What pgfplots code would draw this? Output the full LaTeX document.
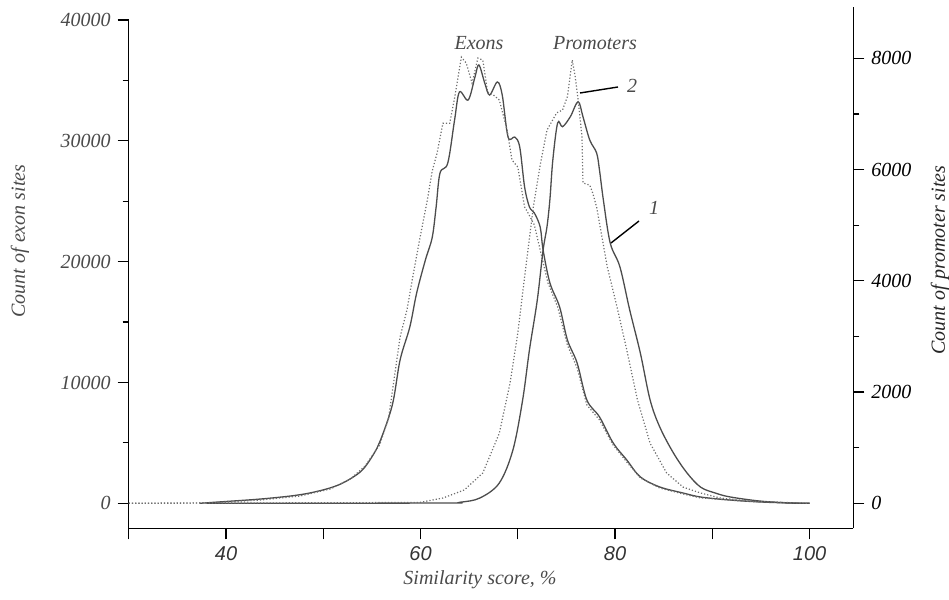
\documentclass[border=0pt]{standalone}
\usepackage{fontspec}
\setmainfont{Liberation Serif}
\setsansfont{Liberation Sans}
\usepackage{pgfplots}
\pgfplotsset{compat=1.18}
\definecolor{solidc}{HTML}{4C4C4C}
\definecolor{dotc}{HTML}{6E6E6E}
\definecolor{labc}{HTML}{4A4A4A}
\begin{document}
\begin{tikzpicture}
\useasboundingbox (0,0) rectangle (474.5pt,300pt);
% left axis: exon sites
\begin{axis}[
  at={(64.375pt,35.75pt)}, anchor=south west,
  scale only axis, width=362.3pt, height=254.25pt,
  xmin=30, xmax=104.5, ymin=-2086, ymax=40000,
  axis x line=bottom, axis y line=left,
  axis line style={-, black, line width=0.6pt},
  xtick={30,40,...,100}, xticklabels={,40,,60,,80,,100},
  ytick={0,10000,...,40000}, minor ytick={5000,15000,25000,35000},
  tick align=outside, major tick length=5.5pt, minor tick length=3pt,
  tick style={black, line width=0.6pt},
  scaled y ticks=false,
  /pgf/number format/1000 sep={}, /pgf/number format/assume math mode=true,
  yticklabel style={font=\itshape, text=labc},
  xticklabel style={font=\sffamily\itshape, text=black!80},
]
\addplot[solidc, line width=0.65pt, smooth, tension=0.55] coordinates {
(37.3,0) (40,150) (43.5,350) (46.6,600) (48.6,850) (50.7,1270) (52.2,1760) (53.8,2590) (54.8,3590) (55.8,5070) (57.1,8140) (57.9,11870) (58.9,14600) (59.6,17400) (60.5,20140) (61.2,22000) (61.6,24500) (62.0,27330) (62.8,28160) (63.5,31720) (64.0,34040) (64.9,33380) (65.6,35290) (66.0,36280) (66.6,34790) (67.1,33790) (67.9,34870) (68.4,33790) (69.0,30310) (69.7,30310) (70.2,29480) (70.7,26180) (71.2,24520) (71.7,24030) (72.3,22870) (72.6,20970) (73.3,18240) (74.3,16250) (75.1,13520) (76.1,11610) (77.1,8550) (78.4,7150) (79.8,5000) (81.2,3590) (82.6,2180) (84.6,1350) (87.0,850) (88.8,520) (91.8,270) (94.9,110) (98.0,25) (100,0)
};
\addplot[dotc, line width=0.6pt, densely dotted] coordinates {
(30,0) (38,40) (40,110) (43.5,270) (47.6,600) (50.7,1180) (52.8,2020) (54.3,3090) (55.8,4830) (56.7,7000) (57.9,13770) (58.6,15990) (59.2,18730) (59.9,21790) (60.7,25100) (61.2,27500) (61.7,28980) (62.3,31460) (63.0,31460) (63.5,33530) (64.2,36930) (64.7,36430) (65.3,34770) (65.9,36850) (66.4,36680) (66.9,34040) (67.5,33790) (68.1,33380) (68.9,30890) (69.4,28410) (70.0,27830) (70.7,24520) (71.0,24110) (71.7,23040) (72.3,20970) (73.1,18240) (74.1,16250) (75.1,13100) (76.1,11200) (77.1,8140) (78.4,6900) (79.8,4830) (81.2,3420) (82.6,2100) (84.6,1260) (87.0,770) (88.8,440) (91.8,270) (94.9,110) (99,25) (100,0)
};
\end{axis}
% right axis: promoter sites
\begin{axis}[
  at={(64.375pt,35.75pt)}, anchor=south west,
  scale only axis, width=362.3pt, height=260.6pt,
  xmin=30, xmax=104.5, ymin=-453, ymax=8917,
  axis x line=none, axis y line=right,
  axis line style={-, black, line width=0.6pt},
  ytick={0,2000,...,8000}, minor ytick={1000,3000,5000,7000},
  tick align=outside, major tick length=5.5pt, minor tick length=3pt,
  tick style={black, line width=0.6pt},
  scaled y ticks=false,
  /pgf/number format/1000 sep={}, /pgf/number format/assume math mode=true,
  yticklabel style={font=\itshape, text=black},
]
\addplot[solidc, line width=0.65pt, smooth, tension=0.55] coordinates {
(38,0) (62.0,5) (64.1,20) (66.1,95) (68.1,365) (69.5,960) (70.5,1860) (71.2,2760) (72.0,3650) (72.6,4550) (73.0,4970) (73.3,5460) (73.6,6170) (74.1,6840) (74.6,6770) (75.4,6950) (76.2,7220) (76.7,6950) (77.4,6530) (78.1,6300) (78.4,5990) (78.8,5450) (79.5,4680) (80.5,4250) (81.5,3480) (82.6,2700) (83.6,1860) (84.6,1370) (86.0,905) (87.4,545) (88.8,290) (90.3,185) (91.8,115) (94.9,40) (98.0,5) (100,0)
};
\addplot[dotc, line width=0.6pt, densely dotted] coordinates {
(30,0) (59.9,15) (62.3,95) (64.5,240) (66.4,545) (68.1,1260) (69.2,2160) (70.0,3060) (70.7,4070) (71.6,5330) (72.3,6080) (73.0,6710) (74.0,7020) (74.6,7070) (75.1,7310) (75.6,7970) (75.9,7670) (76.2,7260) (76.6,6590) (76.7,5760) (77.4,5720) (77.7,5580) (78.1,5330) (79.2,4250) (80.2,3530) (81.2,2760) (82.3,1860) (83.6,1080) (85.3,545) (87.0,290) (88.8,185) (90.8,95) (93.9,40) (99.0,5) (100,0)
};
\end{axis}
% annotations
\node[font=\itshape, text=labc] at (239.5pt,278.5pt) {Exons};
\node[font=\itshape, text=labc] at (297.5pt,278.5pt) {Promoters};
\draw[black, line width=0.7pt] (290pt,253.5pt) -- (309pt,256.5pt);
\node[font=\itshape, text=labc] at (316pt,257pt) {2};
\draw[black, line width=0.7pt] (305.5pt,178.5pt) -- (319.5pt,189.5pt);
\node[font=\itshape, text=labc] at (327pt,196pt) {1};
\node[font=\itshape, text=labc] at (240pt,10pt) {Similarity score, \%};
\node[font=\itshape, text=labc, rotate=90] at (10pt,179.5pt) {Count of exon sites};
\node[font=\itshape, text=black!85, rotate=90] at (470pt,170pt) {Count of promoter sites};
\end{tikzpicture}
\end{document}
